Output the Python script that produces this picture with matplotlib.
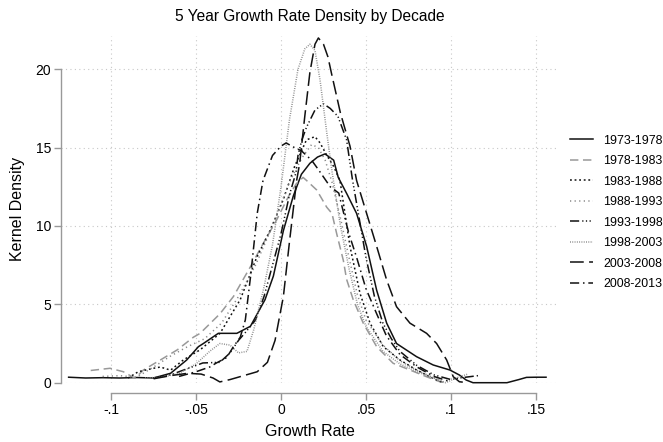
import matplotlib
matplotlib.use("Agg")
import matplotlib.pyplot as plt

plt.rcParams['font.family'] = ['Liberation Sans', 'DejaVu Sans']

labels = ["1973-1978", "1978-1983", "1983-1988", "1988-1993",
          "1993-1998", "1998-2003", "2003-2008", "2008-2013"]

x_7378 = [-0.125,-0.115,-0.105,-0.095,-0.085,-0.075,-0.065,-0.0555,-0.0486,-0.0457,-0.0369,-0.026,-0.018,-0.0094,-0.0045,0.0014,0.0072,0.012,0.017,0.0215,0.0259,0.031,0.0337,0.039,0.0445,0.0504,0.0563,0.0622,0.068,0.0798,0.0896,0.0994,0.105,0.109,0.113,0.125,0.133,0.14,0.1445,0.15,0.156]
y_7378 = [0.35,0.3,0.32,0.3,0.33,0.3,0.6,1.45,2.3,2.5,3.15,3.15,3.6,5.3,6.8,9.7,11.9,13.3,14.0,14.4,14.6,14.2,13.1,12.0,10.8,8.7,5.9,3.8,2.5,1.66,1.13,0.81,0.49,0.17,0.0,0.0,0.0,0.2,0.34,0.35,0.35]

x_7883 = [-0.112,-0.1006,-0.0928,-0.0859,-0.081,-0.071,-0.061,-0.0516,-0.0476,-0.0359,-0.028,-0.018,-0.0104,-0.0025,0.004,0.009,0.013,0.0151,0.021,0.0269,0.03,0.0328,0.0367,0.0386,0.0425,0.0484,0.0563,0.066,0.0759,0.0857,0.0935,0.097]
y_7883 = [0.78,0.92,0.7,0.28,0.81,1.45,2.1,2.9,3.15,4.4,5.5,7.4,8.9,10.4,11.8,12.7,13.1,12.9,12.3,11.2,10.8,9.5,7.8,6.6,5.3,3.8,2.3,1.24,0.81,0.38,0.06,0.0]

x_8388 = [-0.09,-0.084,-0.076,-0.071,-0.065,-0.0575,-0.0476,-0.0359,-0.024,-0.0143,-0.0065,0.0014,0.008,0.015,0.02,0.023,0.027,0.031,0.0347,0.0406,0.0465,0.0524,0.0602,0.07,0.0798,0.0896,0.095]
y_8388 = [0.3,0.7,0.9,1.0,0.8,1.45,2.1,3.15,5.3,8.0,9.7,11.7,13.8,15.5,15.7,15.3,14.5,13.8,12.9,8.7,5.7,3.8,2.3,1.45,0.81,0.28,0.02]

x_8893 = [-0.105,-0.095,-0.085,-0.075,-0.065,-0.055,-0.045,-0.035,-0.025,-0.015,-0.005,0.005,0.012,0.018,0.022,0.026,0.03,0.035,0.04,0.045,0.05,0.06,0.07,0.08,0.09,0.095]
y_8893 = [0.4,0.45,0.35,1.0,1.7,2.3,2.8,3.8,5.5,7.5,10.0,12.8,14.3,15.2,15.0,14.2,12.8,10.5,8.0,5.6,4.0,2.4,1.4,0.8,0.3,0.05]

x_9398 = [-0.075,-0.065,-0.055,-0.046,-0.036,-0.03,-0.025,-0.021,-0.015,-0.01,-0.005,0.0,0.005,0.0088,0.010,0.0123,0.015,0.02,0.025,0.029,0.0335,0.0386,0.042,0.046,0.05,0.055,0.06,0.065,0.07,0.08,0.09,0.1,0.105,0.116]
y_9398 = [0.3,0.5,0.9,1.26,1.3,1.9,2.7,3.2,4.0,5.5,7.5,9.5,12.0,13.4,14.5,15.5,16.3,17.4,17.8,17.5,17.0,15.5,13.0,10.5,8.0,5.5,3.8,2.8,2.0,1.1,0.5,0.2,0.3,0.45]

x_9803 = [-0.08,-0.07,-0.06,-0.05,-0.042,-0.036,-0.03,-0.025,-0.02,-0.016,-0.01,-0.005,0.0,0.005,0.01,0.014,0.017,0.02,0.023,0.025,0.027,0.03,0.035,0.04,0.045,0.05,0.06,0.07,0.08,0.09,0.097,0.103,0.11]
y_9803 = [0.3,0.35,0.6,1.2,2.0,2.5,2.4,1.9,2.0,3.4,6.1,8.8,12.5,16.8,20.0,21.3,21.6,21.2,19.3,17.6,15.9,13.5,10.0,7.3,5.0,3.6,2.0,1.2,0.7,0.3,0.0,0.3,0.55]

x_0308 = [-0.075,-0.065,-0.055,-0.047,-0.04,-0.036,-0.03,-0.022,-0.014,-0.008,-0.0035,0.0014,0.005,0.0092,0.011,0.014,0.017,0.02,0.022,0.025,0.0276,0.0298,0.035,0.0406,0.0445,0.0504,0.0563,0.0622,0.068,0.0759,0.0857,0.0916,0.0975,0.1014,0.105,0.11]
y_0308 = [0.25,0.45,0.6,0.55,0.3,0.05,0.2,0.45,0.7,1.3,2.7,5.5,9.0,12.9,14.0,17.0,19.8,21.6,22.0,21.6,20.8,19.7,17.2,15.1,12.9,10.8,8.7,6.55,4.85,3.8,3.15,2.5,1.45,0.38,0.06,0.0]

x_0813 = [-0.06,-0.05,-0.042,-0.038,-0.032,-0.028,-0.024,-0.021,-0.018,-0.014,-0.0106,-0.005,0.0,0.003,0.008,0.012,0.018,0.022,0.029,0.034,0.036,0.04,0.0445,0.05,0.0563,0.062,0.07,0.08,0.09,0.1]
y_0813 = [0.4,0.7,1.0,1.26,1.6,2.3,2.9,4.0,6.7,10.8,12.9,14.5,15.1,15.3,15.0,14.8,14.2,13.6,12.5,12.1,11.2,9.5,8.0,6.0,4.4,3.0,1.8,1.0,0.4,0.05]

series_x = [x_7378, x_7883, x_8388, x_8893, x_9398, x_9803, x_0308, x_0813]
series_y = [y_7378, y_7883, y_8388, y_8893, y_9398, y_9803, y_0308, y_0813]

xticks = [-0.1, -0.05, 0, 0.05, 0.1, 0.15]
xticklabels = ["-.1", "-.05", "0", ".05", ".1", ".15"]
yticks = [0, 5, 10, 15, 20]

styles = [
    dict(color="#111111", linestyle="-"),
    dict(color="#999999", linestyle=(0, (5.5, 3))),
    dict(color="#111111", linestyle=(0, (1.2, 1.8))),
    dict(color="#888888", linestyle=(0, (0.8, 2.2))),
    dict(color="#111111", linestyle=(0, (6, 2, 0.8, 1.6, 0.8, 1.6, 0.8, 2))),
    dict(color="#8a8a8a", linestyle=(0, (0.6, 0.9))),
    dict(color="#111111", linestyle=(0, (9, 3.5))),
    dict(color="#111111", linestyle=(0, (6, 2.5, 1, 2.5))),
]

W, H = 663, 442
fig = plt.figure(figsize=(W/100, H/100), dpi=100)
L, R, T, B = 61, 558, 36, 382.7
ax = fig.add_axes([L/W, 1-B/H, (R-L)/W, (B-T)/H])

for xs, ys, lab, st in zip(series_x, series_y, labels, styles):
    ax.plot(xs, ys, lw=1.1, label=lab, clip_on=False, **st)

ax.set_xlim((L-281)/1699, (R-281)/1699)
ax.set_ylim(0, (B-T)/15.67)

ax.set_xticks(xticks)
ax.set_xticklabels(xticklabels)
ax.set_yticks(yticks)
ax.set_yticklabels([str(v) for v in yticks])
ax.grid(True, linestyle=(0, (1, 3)), color="#c8c8c8", lw=0.8)
ax.set_axisbelow(True)

for s in ["top", "right"]:
    ax.spines[s].set_visible(False)
ax.spines["left"].set_bounds(0, 20)
ax.spines["bottom"].set_bounds(-0.1, 0.15)
ax.spines["bottom"].set_position(("outward", 7.6))
for s in ["left", "bottom"]:
    ax.spines[s].set_color("#999999")
    ax.spines[s].set_linewidth(1.0)
ax.tick_params(axis="both", colors="#999999", length=5, width=1.0, labelsize=10,
               labelcolor="black", pad=2)

fig.text(309.5/W, 1-436/H, "Growth Rate", ha="center", va="baseline", fontsize=11.5)
ax.set_ylabel("Kernel Density", fontsize=11.5)
ax.yaxis.set_label_coords((25-L)/(R-L), 0.5)
fig.text(309.5/W, 1-20.5/H, "5 Year Growth Rate Density by Decade", ha="center", va="baseline", fontsize=11.2)

leg = ax.legend(loc="upper left", bbox_to_anchor=(570/W, 1-134.5/H), bbox_transform=fig.transFigure,
                frameon=False, fontsize=8.9, handlelength=1.86, handletextpad=0.85,
                labelspacing=0.69, borderpad=0, borderaxespad=0)

fig.savefig("out.png", dpi=100)
